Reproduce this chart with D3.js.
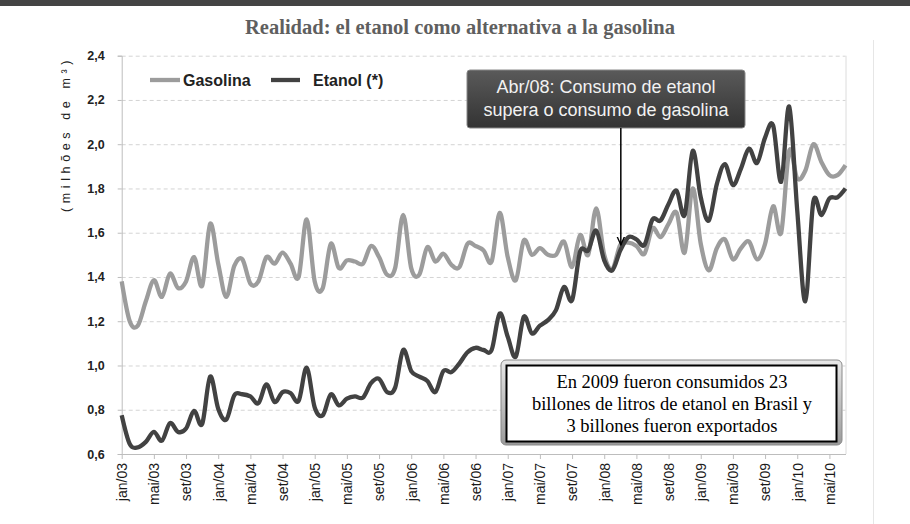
<!DOCTYPE html>
<html>
<head>
<meta charset="utf-8">
<script src="https://cdn.jsdelivr.net/npm/d3@7"></script>
<style>
html,body{margin:0;padding:0;background:#fff;}
svg{display:block;}
</style>
</head>
<body>
<svg id="chart" width="910" height="524"></svg>
<script>
const title = "Realidad: el etanol como alternativa a la gasolina";
const yAxisTitle = "(milhões de m³)";
const months = [
"jan/03","fev/03","mar/03","abr/03","mai/03","jun/03","jul/03","ago/03","set/03","out/03","nov/03","dez/03",
"jan/04","fev/04","mar/04","abr/04","mai/04","jun/04","jul/04","ago/04","set/04","out/04","nov/04","dez/04",
"jan/05","fev/05","mar/05","abr/05","mai/05","jun/05","jul/05","ago/05","set/05","out/05","nov/05","dez/05",
"jan/06","fev/06","mar/06","abr/06","mai/06","jun/06","jul/06","ago/06","set/06","out/06","nov/06","dez/06",
"jan/07","fev/07","mar/07","abr/07","mai/07","jun/07","jul/07","ago/07","set/07","out/07","nov/07","dez/07",
"jan/08","fev/08","mar/08","abr/08","mai/08","jun/08","jul/08","ago/08","set/08","out/08","nov/08","dez/08",
"jan/09","fev/09","mar/09","abr/09","mai/09","jun/09","jul/09","ago/09","set/09","out/09","nov/09","dez/09",
"jan/10","fev/10","mar/10","abr/10","mai/10","jun/10","jul/10"];
const tickLabels = ["jan/03","mai/03","set/03","jan/04","mai/04","set/04","jan/05","mai/05","set/05",
"jan/06","mai/06","set/06","jan/07","mai/07","set/07","jan/08","mai/08","set/08","jan/09","mai/09",
"set/09","jan/10","mai/10"];
const gasolina = [
1.38,1.20,1.18,1.29,1.385,1.31,1.415,1.35,1.38,1.49,1.36,1.64,
1.46,1.31,1.45,1.48,1.37,1.38,1.49,1.46,1.51,1.46,1.40,1.66,
1.38,1.35,1.55,1.44,1.475,1.47,1.46,1.54,1.49,1.41,1.44,1.68,
1.44,1.41,1.535,1.47,1.505,1.455,1.445,1.55,1.54,1.52,1.47,1.69,
1.49,1.385,1.565,1.50,1.53,1.50,1.50,1.56,1.445,1.59,1.50,1.71,
1.50,1.435,1.545,1.555,1.54,1.505,1.62,1.58,1.64,1.69,1.51,1.80,
1.55,1.43,1.53,1.57,1.48,1.53,1.56,1.48,1.55,1.72,1.60,1.97,
1.845,1.88,2.00,1.92,1.86,1.86,1.905];
const etanol = [
0.775,0.645,0.63,0.655,0.70,0.66,0.74,0.70,0.715,0.795,0.735,0.95,
0.805,0.755,0.865,0.87,0.86,0.83,0.915,0.835,0.88,0.875,0.84,0.99,
0.81,0.775,0.87,0.82,0.85,0.86,0.855,0.92,0.94,0.88,0.90,1.07,
0.975,0.95,0.93,0.88,0.975,0.97,1.01,1.06,1.08,1.07,1.07,1.235,
1.13,1.04,1.22,1.145,1.18,1.205,1.25,1.355,1.295,1.515,1.52,1.61,
1.475,1.43,1.52,1.58,1.57,1.545,1.66,1.655,1.73,1.79,1.68,1.97,
1.76,1.655,1.82,1.91,1.815,1.89,1.98,1.915,2.03,2.085,1.83,2.17,
1.70,1.29,1.74,1.68,1.755,1.76,1.80];
const yTicks = [0.6,0.8,1.0,1.2,1.4,1.6,1.8,2.0,2.2,2.4];
const seriesNames = ["Gasolina","Etanol (*)"];
const annotationTop = ["Abr/08: Consumo de etanol","supera o consumo de gasolina"];
const annotationBottom = ["En 2009 fueron consumidos 23","billones de litros de etanol en Brasil y","3 billones fueron exportados"];
const annotationMonth = "mar/08";

const svg = d3.select("#chart");
const colGas = "#9c9c9c", colEt = "#424242";

const x = d3.scalePoint().domain(months).range([121.7, 845.5]);
const y = d3.scaleLinear().domain([0.6, 2.4]).range([454, 55.7]);

// defs
const defs = svg.append("defs");
const g1 = defs.append("linearGradient").attr("id","darkbox").attr("x1",0).attr("y1",0).attr("x2",0).attr("y2",1);
g1.append("stop").attr("offset","0%").attr("stop-color","#5a5a5a");
g1.append("stop").attr("offset","100%").attr("stop-color","#333");
const g2 = defs.append("linearGradient").attr("id","bevel").attr("x1",0).attr("y1",0).attr("x2",0).attr("y2",1);
g2.append("stop").attr("offset","0%").attr("stop-color","#e8e8e8");
g2.append("stop").attr("offset","100%").attr("stop-color","#9a9a9a");
defs.append("marker").attr("id","arrow").attr("viewBox","0 0 10 10").attr("refX",9).attr("refY",5)
  .attr("markerWidth",6).attr("markerHeight",6).attr("orient","auto")
  .append("path").attr("d","M0,1 L9,5 L0,9").attr("fill","none").attr("stroke","#000").attr("stroke-width",1.5);

// top bar
svg.append("rect").attr("x",0).attr("y",0).attr("width",910).attr("height",6).attr("fill","#444");
// title
svg.append("text").attr("x",460).attr("y",34).attr("text-anchor","middle")
  .attr("font-family","'Liberation Serif', 'DejaVu Serif', serif").attr("font-weight","bold")
  .attr("font-size",20.5).attr("fill","#5f5f5f").text(title);
// faint right vertical rule
svg.append("line").attr("x1",873.5).attr("x2",873.5).attr("y1",40).attr("y2",524)
  .attr("stroke","#e6e6e6").attr("stroke-width",1);

// gridlines
svg.append("g").selectAll("line").data(yTicks.filter(d => d > 0.6)).join("line")
  .attr("x1", x.range()[0]).attr("x2", x.range()[1])
  .attr("y1", d => y(d) + 0.5).attr("y2", d => y(d) + 0.5)
  .attr("stroke","#d4d4d4").attr("stroke-width",1).attr("stroke-dasharray","4,3");
// right border
svg.append("line").attr("x1",x.range()[1]+0.5).attr("x2",x.range()[1]+0.5).attr("y1",y(2.4)).attr("y2",y(0.6))
  .attr("stroke","#dcdcdc").attr("stroke-width",1);

// y axis
const yAxis = d3.axisLeft(y).tickValues(yTicks).tickSize(4).tickFormat(d => d3.format(".1f")(d).replace(".", ","));
const yg = svg.append("g").attr("transform", `translate(${x.range()[0]},0)`).call(yAxis);
yg.select(".domain").attr("stroke","#bdbdbd");
yg.selectAll(".tick line").attr("stroke","#bdbdbd");
yg.selectAll(".tick text").attr("x",-17).attr("font-family","'Liberation Sans', Arial, sans-serif")
  .attr("font-weight","bold").attr("font-size",12.5).attr("fill","#222");

// x axis
const xAxis = d3.axisBottom(x).tickValues(tickLabels).tickSize(5).tickSizeOuter(0);
const xg = svg.append("g").attr("transform", `translate(0,${y(0.6)})`).call(xAxis);
xg.select(".domain").attr("stroke","#bdbdbd");
xg.selectAll(".tick line").attr("stroke","#bdbdbd");
xg.selectAll(".tick text").attr("transform","rotate(-90)").attr("text-anchor","end")
  .attr("x",-9).attr("y",0).attr("dy","0.35em")
  .attr("font-family","'Liberation Sans', Arial, sans-serif").attr("font-size",14).attr("fill","#1a1a1a");

// y axis title
svg.append("text").attr("transform","translate(70,134) rotate(-90)").attr("text-anchor","middle")
  .attr("font-family","'Liberation Sans', Arial, sans-serif").attr("font-size",12.5)
  .attr("letter-spacing","4.6px").attr("fill","#222").text(yAxisTitle);

// lines
const line = d3.line().x((d,i) => x(months[i])).y(d => y(d)).curve(d3.curveCardinal.tension(0));
svg.append("path").datum(gasolina).attr("d", line).attr("fill","none")
  .attr("stroke",colGas).attr("stroke-width",4.3).attr("stroke-linejoin","round");
svg.append("path").datum(etanol).attr("d", line).attr("fill","none")
  .attr("stroke",colEt).attr("stroke-width",4.3).attr("stroke-linejoin","round");

// legend
const leg = svg.append("g").attr("font-family","'Liberation Sans', Arial, sans-serif")
  .attr("font-weight","bold").attr("font-size",16).attr("fill","#222");
leg.append("line").attr("x1",150).attr("x2",180).attr("y1",80).attr("y2",80).attr("stroke",colGas).attr("stroke-width",4.3);
leg.append("text").attr("x",183).attr("y",86).text(seriesNames[0]);
leg.append("line").attr("x1",271).attr("x2",300).attr("y1",80).attr("y2",80).attr("stroke",colEt).attr("stroke-width",4.3);
leg.append("text").attr("x",313).attr("y",86).text(seriesNames[1]);

// top annotation box
svg.append("rect").attr("x",467).attr("y",70).attr("width",278).attr("height",58).attr("rx",3)
  .attr("fill","url(#darkbox)").attr("stroke","#888").attr("stroke-width",1);
svg.append("g").attr("font-family","'Liberation Sans', Arial, sans-serif").attr("font-size",18)
  .attr("fill","#f2f2f2").attr("text-anchor","middle")
  .selectAll("text").data(annotationTop).join("text")
  .attr("x",606).attr("y",(d,i) => 93 + i*23).text(d => d);
// arrow
const ax = x(annotationMonth) + 0.5;
svg.append("line").attr("x1",ax).attr("x2",ax).attr("y1",128).attr("y2",y(1.545))
  .attr("stroke","#000").attr("stroke-width",1.5).attr("marker-end","url(#arrow)");

// bottom annotation box
svg.append("rect").attr("x",501).attr("y",360).attr("width",341).attr("height",85).attr("rx",5)
  .attr("fill","url(#bevel)").attr("stroke","#8a8a8a").attr("stroke-width",1);
svg.append("rect").attr("x",506.5).attr("y",365.5).attr("width",330).attr("height",76)
  .attr("fill","#fff").attr("stroke","#000").attr("stroke-width",2);
svg.append("g").attr("font-family","'Liberation Serif', 'Times New Roman', serif").attr("font-size",18.5)
  .attr("fill","#000").attr("text-anchor","middle")
  .selectAll("text").data(annotationBottom).join("text")
  .attr("x",672).attr("y",(d,i) => 388 + i*22).text(d => d);
</script>
</body>
</html>
